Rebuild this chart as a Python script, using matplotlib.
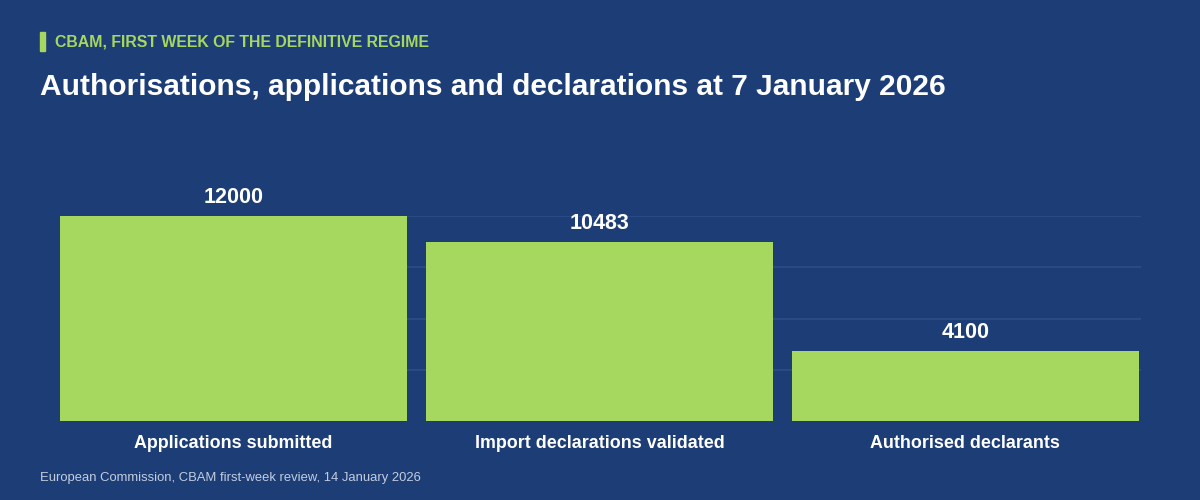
import matplotlib
matplotlib.use("Agg")
from matplotlib import pyplot as plt
from matplotlib.patches import Rectangle

categories = ["Applications submitted", "Import declarations validated", "Authorised declarants"]
values = [12000, 10483, 4100]
grid_ticks = [3000, 6000, 9000, 12000]

bg = "#1c3d75"
green = "#a6d75f"

plt.rcParams["font.family"] = ["Liberation Sans", "DejaVu Sans"]

fig = plt.figure(figsize=(12, 5), dpi=100, facecolor=bg)
ax = fig.add_axes([60 / 1200, 79 / 500, 1081 / 1200, 205 / 500])
ax.set_facecolor(bg)

x = range(len(categories))
ax.bar(x, values, width=0.948, color=green, zorder=3)
ax.set_xlim(-0.474, 2.48)
ax.set_ylim(0, 12000)
ax.set_yticks(grid_ticks)
ax.yaxis.grid(True, color="#2d4f8a", linewidth=1.1)
ax.tick_params(left=False, bottom=False, labelleft=False)
for s in ax.spines.values():
    s.set_visible(False)

ax.set_xticks(list(x))
ax.set_xticklabels(categories, color="white", fontsize=12.9, fontweight="bold")
ax.tick_params(axis="x", pad=6.5)

for i, v in enumerate(values):
    ax.annotate(str(v), (i, v), xytext=(0, 6), textcoords="offset points",
                ha="center", va="bottom", color="white", fontsize=15.5,
                fontweight="bold", annotation_clip=False)

fig.patches.append(Rectangle((40 / 1200, 1 - 51 / 500), 5 / 1200, 19 / 500,
                             transform=fig.transFigure, color=green))
fig.text(55 / 1200, 1 - 42 / 500, "CBAM, FIRST WEEK OF THE DEFINITIVE REGIME",
         color=green, fontsize=11.4, fontweight="bold", va="center")
fig.text(40 / 1200, 1 - 87 / 500, "Authorisations, applications and declarations at 7 January 2026",
         color="white", fontsize=21.5, fontweight="bold", va="center")
fig.text(40 / 1200, 1 - 478 / 500, "European Commission, CBAM first-week review, 14 January 2026",
         color="#c3cde0", fontsize=9.4, va="center")

fig.savefig("out.png", dpi=100, facecolor=bg)
